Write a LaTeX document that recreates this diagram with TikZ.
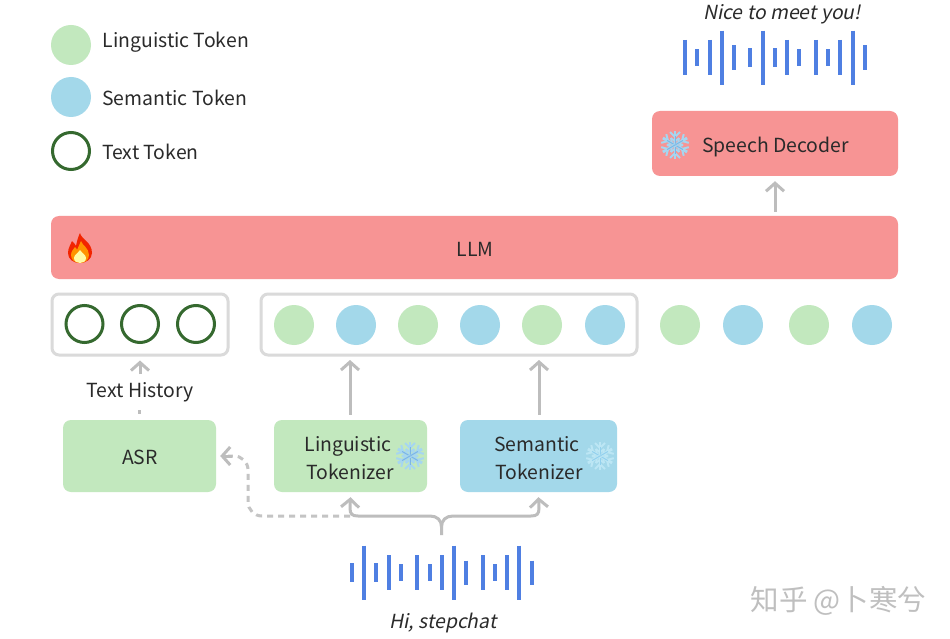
\documentclass[tikz,border=0pt]{standalone}
\usepackage{fontspec}
\setmainfont{Noto Sans CJK SC}
\newfontfamily\slantfont[FakeSlant=0.2]{Noto Sans CJK SC}
\usetikzlibrary{arrows.meta}
\definecolor{rbox}{HTML}{F79494}
\definecolor{gbox}{HTML}{C2E8BE}
\definecolor{bbox}{HTML}{A3D8EA}
\definecolor{frameg}{HTML}{DADADA}
\definecolor{ringg}{HTML}{35692F}
\definecolor{wave}{HTML}{4F7FE2}
\definecolor{arrowg}{HTML}{BDBDBD}
\definecolor{inkc}{HTML}{2A2A2A}
\definecolor{flakea}{HTML}{A6D6F0}
\definecolor{flakeb}{HTML}{7DB6E4}
\tikzset{
  lbl/.style={font=\fontsize{19.4}{24}\selectfont, text=inkc, inner sep=0pt},
  itl/.style={font=\fontsize{19.4}{24}\selectfont\slantfont, text=inkc, inner sep=0pt},
  box/.style={rectangle, rounded corners=8pt, inner sep=0pt, align=center, text=inkc,
    font=\fontsize{19.4}{27}\selectfont},
  frm/.style={draw=frameg, line width=3pt, rounded corners=7pt, rectangle, inner sep=0pt},
  gdot/.style={circle, fill=gbox, minimum size=40pt, inner sep=0pt},
  bdot/.style={circle, fill=bbox, minimum size=40pt, inner sep=0pt},
  ring/.style={circle, draw=ringg, line width=3pt, minimum size=37pt, inner sep=0pt},
  conn/.style={draw=arrowg, line width=3pt, -{Straight Barb[length=8pt,width=18pt,line width=3pt]}},
  plainconn/.style={draw=arrowg, line width=3pt},
  dashconn/.style={draw=arrowg!90, line width=3pt, dash pattern=on 6pt off 5pt},
  bar/.style={draw=wave, line width=4pt},
  flake/.pic={
    \foreach \a in {0,60,...,300}{
      \begin{scope}[rotate=\a]
        \draw[flakea,line width=2.8pt] (0,0)--(0,14);
        \draw[flakea,line width=2pt] (-5,13)--(0,8)--(5,13);
        \draw[flakea,line width=1.8pt] (-4,7)--(0,3.5)--(4,7);
        \draw[flakeb,line width=1pt] (0,0)--(0,9);
      \end{scope}}
  }
}
\begin{document}
\begin{tikzpicture}[x=1pt,y=-1pt]
\useasboundingbox (0,0) rectangle (950,639);
\fill[white] (0,0) rectangle (950,639);

% legend
\node[gdot] (lg) at (71,45) {};
\node[bdot] (lb) at (71,97) {};
\node[ring] (lt) at (71,151) {};
\node[lbl,anchor=west] (ltxt1) at (102.5,42) {Linguistic Token};
\node[lbl,anchor=west] (ltxt2) at (102,98) {Semantic Token};
\node[lbl,anchor=west] (ltxt3) at (102,152) {Text Token};

% top output
\node[itl] (nice) at (782,14) {Nice to meet you!};
\foreach \x/\a/\b in {135/120/225,172/148/197,209/120/225,246/92/254,282/136/209,331/145/200,368/92/254,405/145/200,442/120/225,478/148/197,528/120/225,564/148/197,601/120/225,638/92/254,675/136/209}
  \draw[bar] ({640+\x/3},{\a/3}) -- ({640+\x/3},{\b/3});

% red boxes
\node[box,fill=rbox,minimum width=246pt,minimum height=65pt] (dec) at (775,143.5) {};
\node[lbl] (dectxt) at (775.5,147) {Speech Decoder};
\node[box,fill=rbox,minimum width=847pt,minimum height=63pt] (llm) at (474.5,247.5) {};
\node[lbl] (llmtxt) at (475,249) {LLM};
\draw[conn] (llm.north -| dec.south) ++(0,-4) coordinate (llmtop) -- ([yshift=-5pt]dec.south);

% frames and tokens
\node[frm,minimum width=176pt,minimum height=61pt] (tf) at (140,324.5) {};
\node[frm,minimum width=376pt,minimum height=61pt] (sf) at (449,324.5) {};
\node[ring] (t1) at (84.5,324) {};
\node[ring] (t2) at (140,324) {};
\node[ring] (t3) at (196,324) {};
\node[gdot] (d1) at (294,325) {};
\node[bdot] (d2) at (356,325) {};
\node[gdot] (d3) at (418,325) {};
\node[bdot] (d4) at (480,325) {};
\node[gdot] (d5) at (542,325) {};
\node[bdot] (d6) at (605,325) {};
\node[gdot] (d7) at (680,325) {};
\node[bdot] (d8) at (743,325) {};
\node[gdot] (d9) at (809,325) {};
\node[bdot] (d10) at (872,325) {};

% lower boxes
\node[box,fill=gbox,minimum width=153pt,minimum height=72pt] (asr) at (139.5,456) {};
\node[lbl] (asrtxt) at (140,457.5) {ASR};
\node[box,fill=gbox,minimum width=153pt,minimum height=72pt] (ling) at (350.5,456) {};
\node[box,fill=bbox,minimum width=157pt,minimum height=72pt] (sem) at (538.5,456) {};
\node[lbl] (l1) at (348,446) {Linguistic};
\node[lbl] (l2) at (350,471.5) {Tokenizer};
\node[lbl] (s1) at (537,444) {Semantic};
\node[lbl] (s2) at (539,471.5) {Tokenizer};

% arrows up
\draw[conn] ([yshift=5pt]ling.north -| 350,0) -- (350,360);
\draw[conn] ([yshift=5pt]sem.north -| 539,0) -- (539,360);
\node[lbl] (hist) at (140,392) {Text History};
\draw[plainconn,line width=2.4pt] ([yshift=6pt]asr.north) -- ([yshift=10pt]asr.north);
\draw[conn,shorten <=8pt] (hist.north) -- ([yshift=-4pt]tf.south);

% waveform bottom
\foreach \x/\a/\b in {456/490/547,492/437/600,529/490/547,566/465/570,603/493/543,652/465/570,689/493/543,725/465/570,762/437/600,798/482/555,848/465/570,885/493/543,921/465/570,958/437/600,995/482/555}
  \draw[bar] ({200+\x/3},{400+\a/3}) -- ({200+\x/3},{400+\b/3});
\node[itl] (hi) at (443,623) {Hi, stepchat};

% split connector
\coordinate (stem) at (441.5,535);
\coordinate (jn) at (441.5,527);
\draw[dashconn,rounded corners=14pt] (350,516) -- (248,516) -- (248,456) -- (228,456);
\draw[draw=arrowg,line width=3pt,-{Straight Barb[length=8pt,width=18pt,line width=3pt]}] (232,456) -- ([xshift=4pt]asr.east);
\draw[conn] (stem) -- (jn) .. controls (441.5,520) and (437,516) .. (430,516) -- (358,516)
   .. controls (352,516) and (350,514) .. (350,508) -- ([yshift=-5pt]ling.south);
\draw[conn] (jn) .. controls (441.5,520) and (446,516) .. (453,516) -- (531,516)
   .. controls (537,516) and (539,514) .. (539,508) -- ([yshift=-5pt]sem.south);

% icons
\pic at (675,145) {flake};
\pic at (410,456) {flake};
\begin{scope}
  \definecolor{flakea}{HTML}{BCE6F4}
  \definecolor{flakeb}{HTML}{92D0EE}
  \pic at (600,456) {flake};
\end{scope}
\begin{scope}[shift={(80,248)}]
  \fill[red!70!orange!95!black] (0,-15) .. controls (1,-9) and (12,-6) .. (12,5)
    .. controls (12,11) and (6,15) .. (0,15) .. controls (-7,15) and (-12,11) .. (-12,5)
    .. controls (-12,0) and (-9,-4) .. (-8,-7) .. controls (-6,-5) and (-5,-4) .. (-4,-2)
    .. controls (-3,-7) and (-2,-11) .. (0,-15) -- cycle;
  \fill[orange!85!yellow] (1,-7) .. controls (2,-3) and (9,0) .. (9,7)
    .. controls (9,12) and (5,15) .. (0,15) .. controls (-5,15) and (-9,12) .. (-9,7)
    .. controls (-9,3) and (-6,1) .. (-5,-1) .. controls (-4,0) and (-3,1) .. (-3,2)
    .. controls (-2,-1) and (0,-4) .. (1,-7) -- cycle;
  \fill[yellow!35!white] (0,2) .. controls (2,5) and (6,7) .. (6,10)
    .. controls (6,13.5) and (3,15) .. (0,15) .. controls (-3,15) and (-6,13.5) .. (-6,10)
    .. controls (-6,7) and (-2,5) .. (0,2) -- cycle;
\end{scope}

% watermark
\node[inner sep=0pt,text=black!25,font=\fontsize{28.5}{30}\selectfont] (wm) at (838.5,601) {知乎 @卜寒兮};
\end{tikzpicture}
\end{document}
